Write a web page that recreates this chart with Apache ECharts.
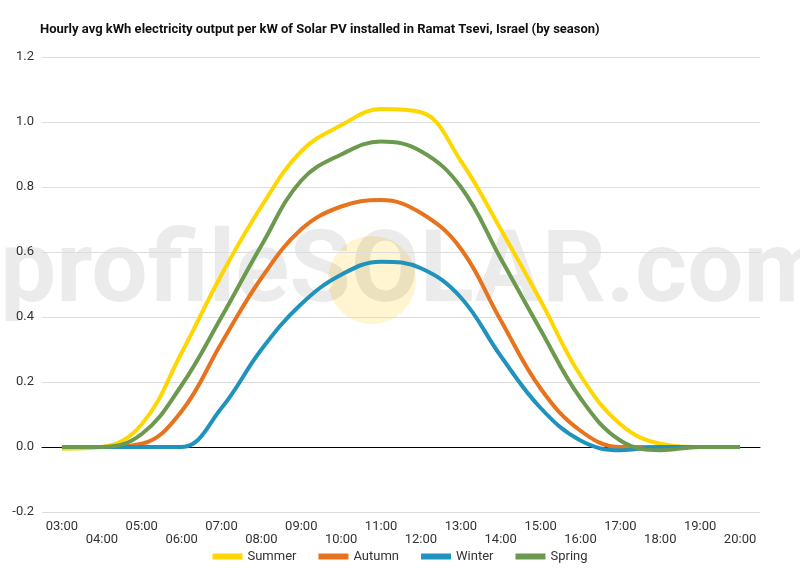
<!DOCTYPE html>
<html><head><meta charset="utf-8">
<script src="https://cdn.jsdelivr.net/npm/echarts@6/dist/echarts.min.js"></script>
<style>html,body{margin:0;padding:0;background:#fff}#c{width:800px;height:570px}</style>
</head><body><div id="c"></div>
<script>
const categories=['03:00','04:00','05:00','06:00','07:00','08:00','09:00','10:00','11:00','12:00','13:00','14:00','15:00','16:00','17:00','18:00','19:00','20:00'];
const summer=[-0.005,0,0.07,0.29,0.53,0.74,0.91,0.99,1.04,1.03,0.88,0.67,0.45,0.22,0.07,0.01,0,0];
const autumn=[0,0,0.01,0.11,0.32,0.52,0.67,0.74,0.76,0.72,0.61,0.39,0.18,0.05,0,0,0,0];
const winter=[0,0,0,0,0.12,0.3,0.44,0.53,0.57,0.55,0.46,0.28,0.12,0.02,-0.01,0,0,0];
const spring=[0,0,0.04,0.19,0.4,0.62,0.82,0.9,0.94,0.91,0.8,0.58,0.36,0.15,0.02,-0.01,0,0];
const yTicks={min:-0.2,max:1.2,interval:0.2};
const chart=echarts.init(document.getElementById('c'));
const mk=(n,d,c)=>({name:n,type:'line',data:d,smooth:0.4,showSymbol:false,lineStyle:{width:4,color:c},itemStyle:{color:c}});
chart.setOption({
 backgroundColor:'#fff',
 title:{text:'Hourly avg kWh electricity output per kW of Solar PV installed in Ramat Tsevi, Israel (by season)',left:35,top:18,textStyle:{fontFamily:'Roboto',fontSize:13,fontWeight:'bold',color:'#111'}},
 graphic:[
  {type:'circle',shape:{cx:372,cy:280,r:44},style:{fill:'rgba(255,225,120,0.35)'},z:0},
  {type:'text',left:0,top:226,style:{text:'profileSOLAR.com',font:'bold 100px Roboto',fill:'rgba(0,0,0,0.08)'},z:0}
 ],
 grid:{left:42,right:40,top:57,bottom:58},
 legend:{bottom:2,itemWidth:30,itemHeight:6,icon:'rect',itemGap:22,textStyle:{fontFamily:'Roboto',fontSize:13,color:'#333'},data:['Summer','Autumn','Winter','Spring']},
 xAxis:{type:'category',data:categories,boundaryGap:true,axisLine:{lineStyle:{color:'#000'}},axisTick:{show:false},
  axisLabel:{interval:0,color:'#333',fontFamily:'Roboto',fontSize:13,formatter:(v,i)=>i%2?'\n'+v:v}},
 yAxis:{type:'value',...yTicks,axisLine:{show:false},axisTick:{show:false},splitLine:{lineStyle:{color:'#ddd'}},
  axisLabel:{color:'#333',fontFamily:'Roboto',fontSize:13,formatter:v=>v.toFixed(1)}},
 series:[mk('Summer',summer,'#ffd700'),mk('Autumn',autumn,'#e8731e'),mk('Winter',winter,'#1f93be'),mk('Spring',spring,'#6b9a4f')]
});
</script></body></html>
